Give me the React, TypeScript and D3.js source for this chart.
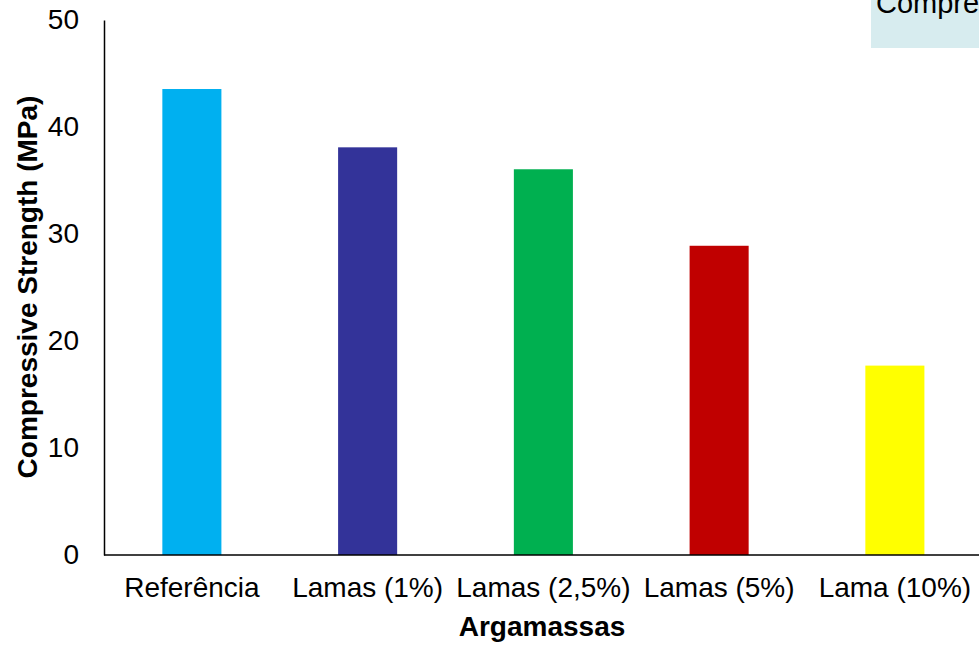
import React, { useEffect, useRef } from 'react';
import * as d3 from 'd3';

const categories = ['Referência', 'Lamas (1%)', 'Lamas (2,5%)', 'Lamas (5%)', 'Lama (10%)'];
const strength = [43.55, 38.1, 36.05, 28.9, 17.7];
const barColors = ['#00B0F0', '#333399', '#00B050', '#C00000', '#FFFF00'];
const yTicks = [0, 10, 20, 30, 40, 50];

const W = 979;
const H = 645;
const FONT = 'Liberation Sans, Arial, sans-serif';

const App = () => {
  const svgRef = useRef<SVGSVGElement>(null);

  useEffect(() => {
    const svg = d3.select(svgRef.current);
    svg.selectAll('*').remove();

    const left = 104;
    const bottom = 555;
    const top = 20;
    const p = 0.664;

    const x = d3.scaleBand<string>()
      .domain(categories)
      .range([left, left + 5 * 175.75])
      .paddingInner(p)
      .paddingOuter(p / 2);
    const y = d3.scaleLinear().domain([0, 50]).range([bottom, top]);

    // title box, cut off at the right edge like the original
    svg.append('rect').attr('x', 871).attr('y', -2).attr('width', 200).attr('height', 50)
      .attr('fill', '#D7ECEF');
    svg.append('text').attr('x', 876).attr('y', 13)
      .attr('font-family', FONT).attr('font-size', 29).attr('fill', '#000')
      .text('Compressive Strength');

    svg.append('g').selectAll('rect').data(strength).join('rect')
      .attr('x', (d, i) => x(categories[i])!)
      .attr('y', d => y(d))
      .attr('width', x.bandwidth())
      .attr('height', d => bottom - y(d))
      .attr('fill', (d, i) => barColors[i]);

    const yAxis = d3.axisLeft(y).tickValues(yTicks).tickSize(0).tickPadding(25);
    const gy = svg.append('g').attr('transform', `translate(${left},0)`).call(yAxis);
    gy.select('.domain').attr('stroke', '#000').attr('stroke-width', 1.5);
    gy.selectAll('text').attr('font-family', FONT).attr('font-size', 28).attr('fill', '#000');

    const xAxis = d3.axisBottom(x).tickSize(0).tickPadding(22);
    const gx = svg.append('g').attr('transform', `translate(0,${bottom})`).call(xAxis);
    gx.select('.domain').attr('d', `M${left},0H${W + 5}`).attr('stroke', '#000').attr('stroke-width', 1.5);
    gx.selectAll('text').attr('font-family', FONT).attr('font-size', 28).attr('fill', '#000');

    svg.append('text').attr('x', 542).attr('y', 636).attr('text-anchor', 'middle')
      .attr('font-family', FONT).attr('font-size', 28).attr('font-weight', 'bold')
      .text('Argamassas');

    svg.append('text').attr('transform', 'translate(37,287) rotate(-90)').attr('text-anchor', 'middle')
      .attr('font-family', FONT).attr('font-size', 28).attr('font-weight', 'bold')
      .text('Compressive Strength (MPa)');
  }, []);

  return (
    <svg ref={svgRef} width={W} height={H}
      style={{ position: 'absolute', left: 0, top: 0, display: 'block', background: '#fff' }} />
  );
};

export default App;
